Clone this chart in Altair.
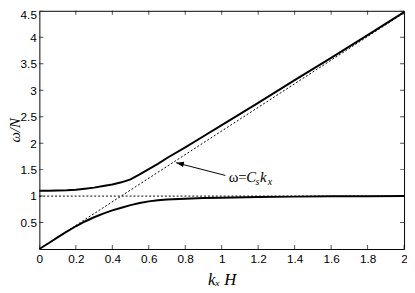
import altair as alt
import pandas as pd

# values
x_vals = [0, 0.05, 0.1, 0.15, 0.2, 0.25, 0.3, 0.35, 0.4, 0.45, 0.5, 0.55, 0.6, 0.65,
          0.7, 0.8, 0.9, 1.0, 1.2, 1.4, 1.6, 1.8, 2.0]
upper = [1.10, 1.10, 1.105, 1.11, 1.12, 1.14, 1.16, 1.19, 1.22, 1.26, 1.315, 1.41, 1.51,
         1.61, 1.72, 1.92, 2.13, 2.34, 2.76, 3.19, 3.61, 4.04, 4.475]
lower = [0, 0.11, 0.22, 0.33, 0.43, 0.52, 0.60, 0.67, 0.73, 0.78, 0.83, 0.87, 0.90,
         0.92, 0.935, 0.95, 0.962, 0.97, 0.982, 0.99, 0.995, 0.998, 1.0]

diag_x = [0, 2]
diag_y = [0, 4.46]
horiz_x = [0, 2]
horiz_y = [1, 1]

x_ticks = [0, 0.2, 0.4, 0.6, 0.8, 1.0, 1.2, 1.4, 1.6, 1.8, 2.0]
y_ticks = [0.5, 1, 1.5, 2, 2.5, 3, 3.5, 4, 4.5]

arrow_start = (1.02, 1.39)
arrow_tip = (0.75, 1.63)
label_pos = (1.038, 1.27)

curves = pd.DataFrame({
    "x": x_vals * 2,
    "y": upper + lower,
    "branch": ["upper"] * len(x_vals) + ["lower"] * len(x_vals),
})
dotted = pd.DataFrame({
    "x": diag_x + horiz_x,
    "y": diag_y + horiz_y,
    "line": ["diag", "diag", "horiz", "horiz"],
})
xt = pd.DataFrame({"t": x_ticks})
yt = pd.DataFrame({"t": y_ticks})
arrow_df = pd.DataFrame({"x": [arrow_start[0]], "y": [arrow_start[1]],
                         "x2": [arrow_tip[0]], "y2": [arrow_tip[1]]})
tip_df = pd.DataFrame({"x": [arrow_tip[0]], "y": [arrow_tip[1]]})
lab_df = pd.DataFrame({"x": [label_pos[0]], "y": [label_pos[1]]})

xscale = alt.Scale(domain=[0, 2], nice=False, zero=False)
yscale = alt.Scale(domain=[0, 4.5], nice=False, zero=False)

xaxis = alt.Axis(values=x_ticks, format="~g", ticks=False, domain=False, grid=False,
                 labelOverlap=False, labelFlush=False,
                 labelFont="Liberation Sans", labelFontSize=12, labelColor="black",
                 labelPadding=5, title="kₓ H", titleFont="Liberation Serif",
                 titleFontStyle="italic", titleFontWeight="normal", titleFontSize=17,
                 titleColor="black", titlePadding=7)
yaxis = alt.Axis(values=y_ticks, format="~g", ticks=False, domain=False, grid=False,
                 labelOverlap=False, labelFlush=True, labelFlushOffset=1,
                 labelFont="Liberation Sans", labelFontSize=12, labelColor="black",
                 labelPadding=3, title="ω/N", titleFont="Liberation Serif",
                 titleFontStyle="italic", titleFontWeight="normal", titleFontSize=15,
                 titleColor="black", titlePadding=1, titleBaseline="alphabetic")


def X(field):
    return alt.X(field, scale=xscale, axis=xaxis)


def Y(field):
    return alt.Y(field, scale=yscale, axis=yaxis)


dots = alt.Chart(dotted).mark_line(color="black", strokeWidth=1, strokeDash=[2, 2]).encode(
    x=X("x:Q"), y=Y("y:Q"), detail="line:N",
)
solid = alt.Chart(curves).mark_line(color="black", strokeWidth=2).encode(
    x=X("x:Q"), y=Y("y:Q"), detail="branch:N",
)

tick_style = dict(size=8, thickness=1, color="black", clip=True)
xt_bottom = alt.Chart(xt).mark_tick(orient="vertical", **tick_style).encode(
    x=X("t:Q"), y=alt.YDatum(0, scale=yscale, axis=yaxis))
xt_top = alt.Chart(xt).mark_tick(orient="vertical", **tick_style).encode(
    x=X("t:Q"), y=alt.YDatum(4.5, scale=yscale, axis=yaxis))
yt_left = alt.Chart(yt).mark_tick(orient="horizontal", **tick_style).encode(
    y=Y("t:Q"), x=alt.XDatum(0, scale=xscale, axis=xaxis))
yt_right = alt.Chart(yt).mark_tick(orient="horizontal", **tick_style).encode(
    y=Y("t:Q"), x=alt.XDatum(2, scale=xscale, axis=xaxis))

arrow_line = alt.Chart(arrow_df).mark_rule(color="black", strokeWidth=1).encode(
    x=X("x:Q"), y=Y("y:Q"), x2="x2:Q", y2="y2:Q")
arrow_head = alt.Chart(tip_df).mark_point(
    shape="M0,0 L-0.35,1 L0.35,1 Z", filled=True, color="black", opacity=1,
    size=250, angle=283).encode(x=X("x:Q"), y=Y("y:Q"))


def piece(txt, dx, dy=0, size=15, style="italic"):
    return alt.Chart(lab_df).mark_text(
        text=txt, dx=dx, dy=dy, align="left", baseline="alphabetic",
        font="Liberation Serif", fontSize=size, fontStyle=style, color="black"
    ).encode(x=X("x:Q"), y=Y("y:Q"))


label = (piece("ω=", 0, style="normal") + piece("C", 18) + piece("s", 27.5, 3, 10)
         + piece("k", 32) + piece("x", 40, 3, 10))

chart = alt.layer(
    dots, solid, xt_bottom, xt_top, yt_left, yt_right, arrow_line, arrow_head, label
).properties(
    width=372, height=243,
    autosize=alt.AutoSizeParams(type="none"),
    padding={"left": 32, "top": 0, "right": 3, "bottom": 42},
    background="white",
).configure_view(stroke="black", strokeWidth=1)

chart.save("out.html", embed_options={"renderer": "svg", "actions": False})
